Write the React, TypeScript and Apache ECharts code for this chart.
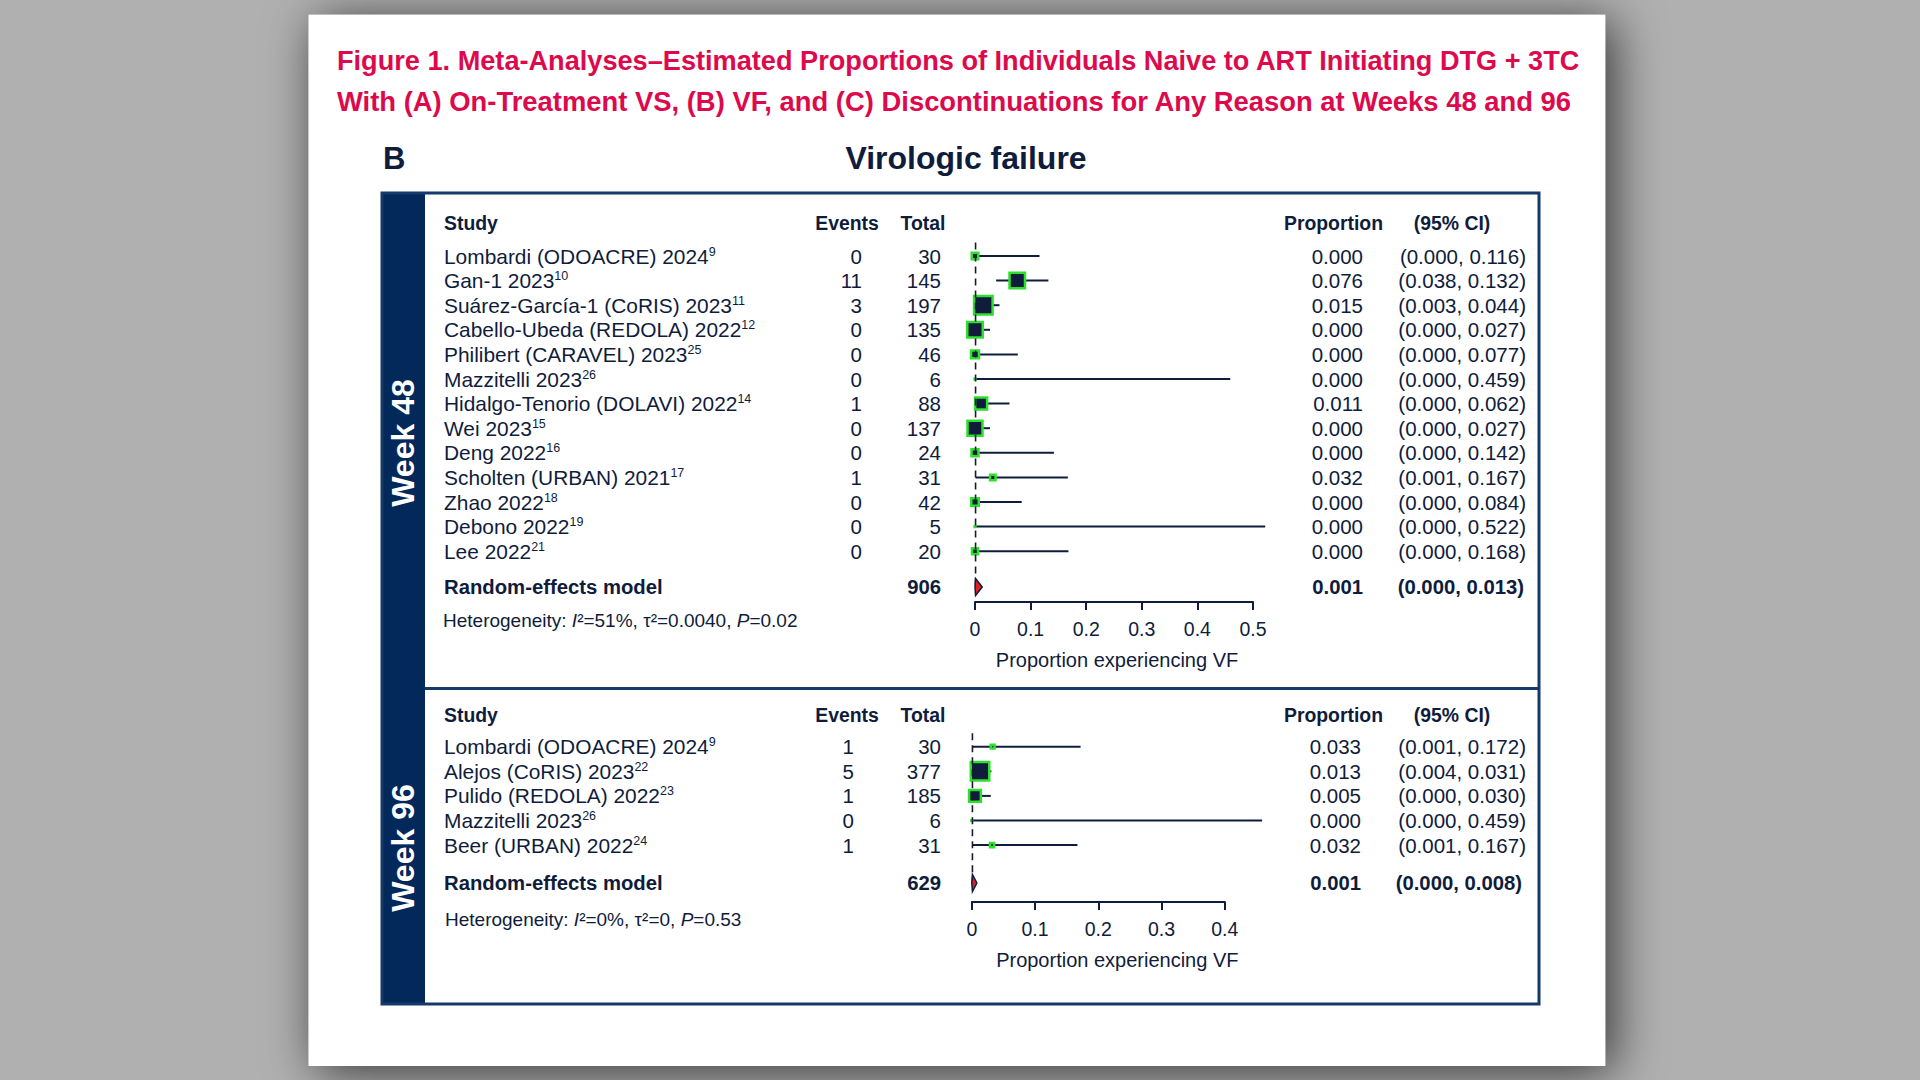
import React, { useEffect, useRef } from "react";
import * as echarts from "echarts";

// ---------------- DATA ----------------
const titleLine1 =
  "Figure 1. Meta-Analyses–Estimated Proportions of Individuals Naive to ART Initiating DTG + 3TC";
const titleLine2 =
  "With (A) On-Treatment VS, (B) VF, and (C) Discontinuations for Any Reason at Weeks 48 and 96";
const panelLetter = "B";
const panelTitle = "Virologic failure";
const axisTitle = "Proportion experiencing VF";

const studies48 = [
  "Lombardi (ODOACRE) 2024",
  "Gan-1 2023",
  "Suárez-García-1 (CoRIS) 2023",
  "Cabello-Ubeda (REDOLA) 2022",
  "Philibert (CARAVEL) 2023",
  "Mazzitelli 2023",
  "Hidalgo-Tenorio (DOLAVI) 2022",
  "Wei 2023",
  "Deng 2022",
  "Scholten (URBAN) 2021",
  "Zhao 2022",
  "Debono 2022",
  "Lee 2022",
];
const refs48 = ["9", "10", "11", "12", "25", "26", "14", "15", "16", "17", "18", "19", "21"];
const events48 = [0, 11, 3, 0, 0, 0, 1, 0, 0, 1, 0, 0, 0];
const totals48 = [30, 145, 197, 135, 46, 6, 88, 137, 24, 31, 42, 5, 20];
const prop48 = [0.0, 0.076, 0.015, 0.0, 0.0, 0.0, 0.011, 0.0, 0.0, 0.032, 0.0, 0.0, 0.0];
const lower48 = [0.0, 0.038, 0.003, 0.0, 0.0, 0.0, 0.0, 0.0, 0.0, 0.001, 0.0, 0.0, 0.0];
const upper48 = [0.116, 0.132, 0.044, 0.027, 0.077, 0.459, 0.062, 0.027, 0.142, 0.167, 0.084, 0.522, 0.168];
// study weights (%)
const weights48 = [3.8, 15.1, 20.6, 15.1, 5.1, 0.4, 9.8, 14.3, 4.2, 3.0, 4.7, 0.4, 3.4];
const pooled48 = [0.001, 0.0, 0.013];
const pooledTotal48 = 906;
const het48 = ["51%", "0.0040", "0.02"];
const ticks48 = ["0", "0.1", "0.2", "0.3", "0.4", "0.5"];

const studies96 = [
  "Lombardi (ODOACRE) 2024",
  "Alejos (CoRIS) 2023",
  "Pulido (REDOLA) 2022",
  "Mazzitelli 2023",
  "Beer (URBAN) 2022",
];
const refs96 = ["9", "22", "23", "26", "24"];
const events96 = [1, 5, 1, 0, 1];
const totals96 = [30, 377, 185, 6, 31];
const prop96 = [0.033, 0.013, 0.005, 0.0, 0.032];
const lower96 = [0.001, 0.004, 0.0, 0.0, 0.001];
const upper96 = [0.172, 0.031, 0.03, 0.459, 0.167];
const weights96 = [5.4, 60.1, 27.9, 0.5, 6.0];
const pooled96 = [0.001, 0.0, 0.008];
const pooledTotal96 = 629;
const het96 = ["0%", "0", "0.53"];
const ticks96 = ["0", "0.1", "0.2", "0.3", "0.4"];

const headers = ["Study", "Events", "Total", "Proportion", "(95% CI)"];
const weekLabels = ["Week 48", "Week 96"];
const pooledLabel = "Random-effects model";

// ---------------- STYLE / LAYOUT ----------------
const FONT = "'Liberation Sans', Arial, Helvetica, sans-serif";
const INK = "#0f1c3c";
const BAND = "#03295b";
const BORDER = "#17396a";
const GREEN = "#2ee02e";
const TITLE_RED = "#dc0a4c";
const DIAMOND = "#e11d25";

const panels = [
  {
    studies: studies48, refs: refs48, events: events48, totals: totals48,
    prop: prop48, lower: lower48, upper: upper48, weights: weights48,
    pooled: pooled48, pooledTotal: pooledTotal48, het: het48, ticks: ticks48,
    xMax: 0.5, gridLeft: 975, gridWidth: 278,
    firstRowY: 256, pitch: 24.6, axisY: 602, headerY: 223, pooledY: 587, hetY: 620,
    eventsRight: 862, propRight: 1363, ciRight: 1526, pooledCiRight: 1524,
    hetX: 443, nameShift: 6,
  },
  {
    studies: studies96, refs: refs96, events: events96, totals: totals96,
    prop: prop96, lower: lower96, upper: upper96, weights: weights96,
    pooled: pooled96, pooledTotal: pooledTotal96, het: het96, ticks: ticks96,
    xMax: 0.4, gridLeft: 971.8, gridWidth: 253,
    firstRowY: 746.7, pitch: 24.6, axisY: 902, headerY: 715, pooledY: 883, hetY: 919,
    eventsRight: 854, propRight: 1361, ciRight: 1526, pooledCiRight: 1522,
    hetX: 445, nameShift: 38,
  },
];

const STUDY_X = 444;
const TOTAL_RIGHT = 941;
const MAX_BOX = 21;

function text(x: number, y: number, t: string, extra: any = {}) {
  return {
    type: "text",
    x,
    y,
    silent: true,
    style: {
      text: t,
      fill: INK,
      fontFamily: FONT,
      fontSize: 20.5,
      align: "left",
      verticalAlign: "middle",
      ...extra,
    },
  };
}

function buildOption() {
  const grids: any[] = [];
  const xAxes: any[] = [];
  const yAxes: any[] = [];
  const series: any[] = [];
  const graphics: any[] = [];

  // page card
  graphics.push({
    type: "rect",
    silent: true,
    shape: { x: 308.6, y: 14.7, width: 1296.6, height: 1051.3 },
    style: {
      fill: "#ffffff",
      shadowBlur: 50,
      shadowColor: "rgba(0,0,0,0.7)",
      shadowOffsetX: 8,
      shadowOffsetY: 6,
    },
    z: -10,
  });

  graphics.push(text(337, 60, titleLine1, { fill: TITLE_RED, fontSize: 27.15, fontWeight: "bold" }));
  graphics.push(text(337, 101, titleLine2, { fill: TITLE_RED, fontSize: 27.4, fontWeight: "bold" }));
  graphics.push(text(383, 158, panelLetter, { fontSize: 31, fontWeight: "bold" }));
  graphics.push(text(966, 158, panelTitle, { fontSize: 32, fontWeight: "bold", align: "center" }));

  // frame
  graphics.push({
    type: "rect",
    silent: true,
    shape: { x: 381, y: 192, width: 44, height: 813 },
    style: { fill: BAND },
  });
  graphics.push({
    type: "rect",
    silent: true,
    shape: { x: 382, y: 193, width: 1157, height: 811 },
    style: { fill: "none", stroke: BORDER, lineWidth: 3 },
  });
  graphics.push({
    type: "line",
    silent: true,
    shape: { x1: 425, y1: 688.5, x2: 1540, y2: 688.5 },
    style: { stroke: BORDER, lineWidth: 3 },
  });
  graphics.push({
    type: "text",
    x: 403,
    y: 443,
    rotation: Math.PI / 2,
    silent: true,
    style: {
      text: weekLabels[0], fill: "#ffffff", fontFamily: FONT, fontSize: 32,
      fontWeight: "bold", align: "center", verticalAlign: "middle",
    },
  });
  graphics.push({
    type: "text",
    x: 403,
    y: 848,
    rotation: Math.PI / 2,
    silent: true,
    style: {
      text: weekLabels[1], fill: "#ffffff", fontFamily: FONT, fontSize: 32,
      fontWeight: "bold", align: "center", verticalAlign: "middle",
    },
  });

  panels.forEach((p, i) => {
    const yMin = -1;
    const yMax = (p.axisY - p.firstRowY) / p.pitch;
    const pooledRow = (p.pooledY - p.firstRowY) / p.pitch;
    const rowY = (k: number) => p.firstRowY + k * p.pitch;

    grids.push({
      left: p.gridLeft,
      width: p.gridWidth,
      top: p.firstRowY + yMin * p.pitch,
      height: p.axisY - (p.firstRowY + yMin * p.pitch),
      containLabel: false,
      outerBoundsMode: "none",
    });
    xAxes.push({
      gridIndex: i,
      type: "value",
      min: 0,
      max: p.xMax,
      interval: 0.1,
      position: "bottom",
      axisLine: { show: true, onZero: false, lineStyle: { color: INK, width: 2 } },
      axisTick: { show: true, length: 8, lineStyle: { color: INK, width: 2 } },
      splitLine: { show: false },
      axisLabel: {
        margin: 17,
        fontSize: 19.5,
        color: INK,
        fontFamily: FONT,
        formatter: (v: number) => p.ticks[Math.round(v * 10)] ?? String(v),
      },
      name: axisTitle,
      nameLocation: "middle",
      nameGap: 48,
      nameTextStyle: {
        fontSize: 20,
        color: INK,
        fontFamily: FONT,
        padding: [0, 0, 0, p.nameShift],
      },
    });
    yAxes.push({
      gridIndex: i,
      type: "value",
      inverse: true,
      min: yMin,
      max: yMax,
      show: false,
    });

    const maxW = Math.max(...p.weights);
    series.push({
      type: "custom",
      name: "studies" + i,
      xAxisIndex: i,
      yAxisIndex: i,
      clip: false,
      encode: { x: [1, 2, 3], y: 0 },
      data: p.studies.map((_, k) => [k, p.prop[k], p.lower[k], p.upper[k], p.weights[k]]),
      renderItem: (_params: any, api: any) => {
        const row = api.value(0);
        const est = api.value(1);
        const lo = api.value(2);
        const hi = api.value(3);
        const w = api.value(4);
        const a = api.coord([lo, row]);
        const b = api.coord([hi, row]);
        const c = api.coord([est, row]);
        const s = MAX_BOX * Math.sqrt(w / maxW);
        const bw = 2.5;
        const inner = Math.max(s - bw, 0.8);
        return {
          type: "group",
          children: [
            {
              type: "line",
              shape: { x1: a[0], y1: a[1], x2: b[0], y2: b[1] },
              style: { stroke: INK, lineWidth: 2 },
            },
            {
              type: "rect",
              shape: { x: c[0] - inner / 2, y: c[1] - inner / 2, width: inner, height: inner },
              style: { fill: INK, stroke: GREEN, lineWidth: bw },
            },
          ],
        };
      },
    });
    series.push({
      type: "custom",
      name: "pooled" + i,
      xAxisIndex: i,
      yAxisIndex: i,
      clip: false,
      encode: { x: [1, 2, 3], y: 0 },
      data: [[pooledRow, p.pooled[0], p.pooled[1], p.pooled[2]]],
      renderItem: (_params: any, api: any) => {
        const row = api.value(0);
        const est = api.value(1);
        const lo = api.value(2);
        const hi = api.value(3);
        const top = api.coord([est, -0.55]);
        const c = api.coord([est, row]);
        const a = api.coord([lo, row]);
        const b = api.coord([hi, row]);
        const h = 8.5;
        return {
          type: "group",
          children: [
            {
              type: "line",
              shape: { x1: c[0], y1: top[1], x2: c[0], y2: c[1] },
              style: { stroke: "#1b1b2b", lineWidth: 1.6, lineDash: [7, 5] },
            },
            {
              type: "polygon",
              shape: { points: [[a[0], c[1]], [c[0], c[1] - h], [b[0], c[1]], [c[0], c[1] + h]] },
              style: { fill: DIAMOND, stroke: INK, lineWidth: 1.5 },
            },
          ],
        };
      },
    });

    // table headers
    const hb = { fontWeight: "bold", fontSize: 19.4 };
    graphics.push(text(STUDY_X, p.headerY, headers[0], hb));
    graphics.push(text(847, p.headerY, headers[1], { ...hb, align: "center" }));
    graphics.push(text(923, p.headerY, headers[2], { ...hb, align: "center" }));
    graphics.push(text(1333.5, p.headerY, headers[3], { ...hb, align: "center" }));
    graphics.push(text(1452, p.headerY, headers[4], { ...hb, align: "center" }));

    // rows
    p.studies.forEach((name, k) => {
      const y = rowY(k);
      graphics.push({
        type: "text",
        x: STUDY_X,
        y,
        silent: true,
        style: {
          text: `{n|${name}}{s|${p.refs[k]}}`,
          align: "left",
          verticalAlign: "middle",
          rich: {
            n: { fontSize: 20.9, fontFamily: FONT, fill: INK, lineHeight: 22 },
            s: { fontSize: 12.5, fontFamily: FONT, fill: INK, verticalAlign: "top", lineHeight: 22 },
          },
        },
      });
      graphics.push(text(p.eventsRight, y, String(p.events[k]), { align: "right" }));
      graphics.push(text(TOTAL_RIGHT, y, String(p.totals[k]), { align: "right" }));
      graphics.push(text(p.propRight, y, p.prop[k].toFixed(3), { align: "right" }));
      graphics.push(
        text(p.ciRight, y, `(${p.lower[k].toFixed(3)}, ${p.upper[k].toFixed(3)})`, { align: "right" })
      );
    });

    // pooled row
    const bold = { fontWeight: "bold", fontSize: 20.3 };
    graphics.push(text(STUDY_X, p.pooledY, pooledLabel, bold));
    graphics.push(text(TOTAL_RIGHT, p.pooledY, String(p.pooledTotal), { ...bold, align: "right" }));
    graphics.push(text(p.propRight, p.pooledY, p.pooled[0].toFixed(3), { ...bold, align: "right" }));
    graphics.push(
      text(p.pooledCiRight, p.pooledY, `(${p.pooled[1].toFixed(3)}, ${p.pooled[2].toFixed(3)})`, {
        ...bold,
        align: "right",
      })
    );

    // heterogeneity
    graphics.push({
      type: "text",
      x: p.hetX,
      y: p.hetY,
      silent: true,
      style: {
        text: `{t|Heterogeneity: }{i|I}{t|²=${p.het[0]}, τ²=${p.het[1]}, }{i|P}{t|=${p.het[2]}}`,
        align: "left",
        verticalAlign: "middle",
        rich: {
          t: { fontSize: 19, fontFamily: FONT, fill: INK },
          i: { fontSize: 19, fontFamily: FONT, fill: INK, fontStyle: "italic" },
        },
      },
    });
  });

  return {
    animation: false,
    backgroundColor: "#b0b0b0",
    grid: grids,
    xAxis: xAxes,
    yAxis: yAxes,
    series,
    graphic: { elements: graphics },
  };
}

export default function App() {
  const ref = useRef<HTMLDivElement>(null);
  useEffect(() => {
    if (!ref.current) return;
    const chart = echarts.init(ref.current, undefined, { renderer: "svg", width: 1920, height: 1080 });
    chart.setOption(buildOption() as any);
    return () => chart.dispose();
  }, []);
  return (
    <div
      ref={ref}
      style={{ position: "fixed", left: 0, top: 0, width: 1920, height: 1080, background: "#b0b0b0" }}
    />
  );
}
